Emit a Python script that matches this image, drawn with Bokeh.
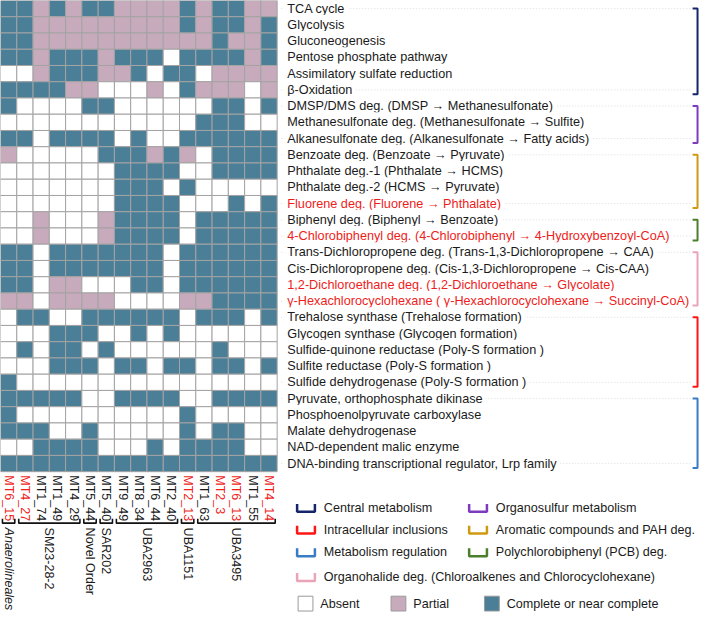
import math
from bokeh.plotting import figure
from bokeh.models import Range1d, ColumnDataSource
from bokeh.transform import factor_cmap
from bokeh.core.properties import value
from bokeh.embed import file_html
from bokeh.resources import INLINE

# ---------------- data ----------------
columns = ["MT6_15", "MT4_27", "MT1_74", "MT1_49", "MT4_29", "MT5_44", "MT5_40",
           "MT9_49", "MT8_34", "MT6_44", "MT2_40", "MT2_13", "MT1_63", "MT2_3",
           "MT6_13", "MT1_55", "MT4_14"]
red_columns = ["MT6_15", "MT4_27", "MT2_13", "MT2_3", "MT6_13", "MT4_14"]

taxa_groups = ["Anaerolineales", "SM23-28-2", "Novel Order", "SAR202", "UBA2963", "UBA1151", "UBA3495"]
taxa_first = [0, 1, 5, 6, 7, 11, 12]
taxa_last = [0, 4, 5, 6, 10, 11, 16]

pathways = [
    "TCA cycle",
    "Glycolysis",
    "Gluconeogenesis",
    "Pentose phosphate pathway",
    "Assimilatory sulfate reduction",
    "β-Oxidation",
    "DMSP/DMS deg. (DMSP → Methanesulfonate)",
    "Methanesulfonate deg. (Methanesulfonate → Sulfite)",
    "Alkanesulfonate deg. (Alkanesulfonate → Fatty acids)",
    "Benzoate deg. (Benzoate → Pyruvate)",
    "Phthalate deg.-1 (Phthalate → HCMS)",
    "Phthalate deg.-2 (HCMS → Pyruvate)",
    "Fluorene deg. (Fluorene → Phthalate)",
    "Biphenyl deg. (Biphenyl → Benzoate)",
    "4-Chlorobiphenyl deg. (4-Chlorobiphenyl → 4-Hydroxybenzoyl-CoA)",
    "Trans-Dichloropropene deg. (Trans-1,3-Dichloropropene → CAA)",
    "Cis-Dichloropropene deg. (Cis-1,3-Dichloropropene → Cis-CAA)",
    "1,2-Dichloroethane deg. (1,2-Dichloroethane → Glycolate)",
    "γ-Hexachlorocyclohexane ( γ-Hexachlorocyclohexane → Succinyl-CoA)",
    "Trehalose synthase (Trehalose formation)",
    "Glycogen synthase (Glycogen formation)",
    "Sulfide-quinone reductase (Poly-S formation )",
    "Sulfite reductase (Poly-S formation )",
    "Sulfide dehydrogenase (Poly-S formation )",
    "Pyruvate, orthophosphate dikinase",
    "Phosphoenolpyruvate carboxylase",
    "Malate dehydrogenase",
    "NAD-dependent malic enzyme",
    "DNA-binding transcriptional regulator, Lrp family",
]
red_pathways = [12, 14, 17, 18]

# A = Absent, P = Partial, C = Complete or near complete (one char per column)
status_rows = [
    "CCPCPCCPPPPCPCCPP",
    "CCPPPPPPPPPCPCCPC",
    "CCPPPPPPPPPPPCPPC",
    "CCPCCCPCCCACCCCPC",
    "AAPCCCPPCACCAPPPP",
    "CCCCPPAAAPACPPPAP",
    "CAAAACCAAAAAACCAC",
    "AAAAAAAAAAAACCCAA",
    "CCACCCCACAACCCCCC",
    "PAAAAACCCPCPACCCC",
    "AAAAAAACCCCAACCCC",
    "AAAAAAACCCACAAAAA",
    "AAAAAAACCCCAAACAC",
    "AAPAAAPCCCCACCCCC",
    "AAPAAAPCCCCACCCCC",
    "CCACCCCCCCACCCCCC",
    "CCACCCCCCCACCCCCC",
    "CCAPPAAACCACCCCCC",
    "PPAPPPPAAAAPPCCCC",
    "ACCAACCCCCCACCCAC",
    "AAACCCAACACAAAAAA",
    "ACACCACAAAAAACAAA",
    "AAACCCACCACCACCAC",
    "CAAAAAAAAAAAAAAAA",
    "CCCCCAACCCCAACCCC",
    "CAAAAAAAAAACAAAAA",
    "CCCAACAAAAACACCAA",
    "AACCCCAAACACCCCAA",
    "CCCCCCCCCCCCCCCCC",
]

func_groups = ["Central metabolism", "Organosulfur metabolism", "Aromatic compounds and PAH deg.",
               "Polychlorobiphenyl (PCB) deg.", "Organohalide deg. (Chloroalkenes and Chlorocyclohexane)",
               "Intracellular inclusions", "Metabolism regulation"]
func_first = [0, 6, 9, 13, 15, 19, 24]
func_last = [5, 8, 12, 14, 18, 23, 28]
func_colors = ["#14256a", "#7d3cbf", "#cf9a12", "#4b7f2b", "#eba3b8", "#ff1616", "#3a7bc6"]

status_codes = ["A", "P", "C"]
status_names = ["Absent", "Partial", "Complete or near complete"]
status_colors = ["#ffffff", "#c8aabd", "#4b7f98"]

# ---------------- layout helpers ----------------
U = 16.46          # reference pixels per cell
FONT = "Liberation Sans"
GRID = "#a3a3a3"


def u(px):
    return px / U


p = figure(width=700, height=612, x_range=Range1d(0, u(708)), y_range=Range1d(u(620), 0),
           output_backend="svg", toolbar_location=None, min_border=0)
p.axis.visible = False
p.grid.visible = False
p.outline_line_color = None
p.background_fill_color = "white"

# ---------------- heatmap cells ----------------
xs, ys, st = [], [], []
for r, row in enumerate(status_rows):
    for c, s in enumerate(row):
        xs.append(c + 0.5)
        ys.append(r + 0.5)
        st.append(s)
src = ColumnDataSource(dict(x=xs, y=ys, status=st))
p.rect(x="x", y="y", width=1, height=1, source=src,
       fill_color=factor_cmap("status", palette=status_colors, factors=status_codes),
       line_color=GRID, line_width=1)

# ---------------- leader lines ----------------
lx0, lx1 = u(284), u(698)
lead_xs, lead_ys = [], []
for f, l in zip(func_first, func_last):
    for r in (f, l):
        lead_xs.append([lx0, lx1])
        lead_ys.append([r + 0.5, r + 0.5])
p.multi_line(lead_xs, lead_ys, line_color="#dcdcdc", line_width=1, line_dash="1 2")

# ---------------- row labels ----------------
row_colors = ["#ee1c1c" if i in red_pathways else "#1a1a1a" for i in range(len(pathways))]
p.text(x=[u(287)] * len(pathways), y=[i + 0.5 for i in range(len(pathways))], text=pathways,
       text_color=row_colors, text_font=value(FONT), text_font_size="12.7px",
       text_align="left", text_baseline="middle",
       background_fill_color="white", padding=3)

# ---------------- right brackets ----------------
bx_in, bx_out = u(700), u(705)
br_xs, br_ys = [], []
for f, l in zip(func_first, func_last):
    y0 = f + 0.5
    y1 = l + 0.77
    br_xs.append([bx_in, bx_out, bx_out, bx_in])
    br_ys.append([y0, y0, y1, y1])
p.multi_line(br_xs, br_ys, line_color=func_colors, line_width=2)

# ---------------- column labels ----------------
col_colors = ["#ee1c1c" if c in red_columns else "#1a1a1a" for c in columns]
p.text(x=[i + 0.5 for i in range(len(columns))], y=[u(481)] * len(columns), text=columns,
       angle=-math.pi / 2, text_color=col_colors, text_font=value(FONT), text_font_size="12.5px",
       text_align="left", text_baseline="middle")

# ---------------- taxon brackets + labels ----------------
t_xs, t_ys = [], []
for f, l in zip(taxa_first, taxa_last):
    x0, x1 = f + 0.12, l + 0.88
    t_xs.append([x0, x0, x1, x1])
    t_ys.append([u(525), u(529.5), u(529.5), u(525)])
p.multi_line(t_xs, t_ys, line_color="#111111", line_width=1.6)

tx = [(f + l + 1) / 2 for f, l in zip(taxa_first, taxa_last)]
p.text(x=tx, y=[u(534)] * len(tx), text=taxa_groups, angle=-math.pi / 2,
       text_color="#1a1a1a", text_font=value(FONT), text_font_size="12.5px",
       text_font_style=["italic"] + ["normal"] * (len(tx) - 1),
       text_align="left", text_baseline="middle")

# ---------------- legend: functional groups ----------------
leg_order = [0, 5, 6, 4, 1, 2, 3]
leg_x = [u(300), u(300), u(300), u(300), u(474), u(474), u(474)]
leg_y = [u(514), u(536), u(559), u(584), u(514), u(536), u(559)]
icon_w = u(18)
icon_h = u(8)
i_xs, i_ys, i_cols = [], [], []
for k, g in enumerate(leg_order):
    x0 = leg_x[k]
    yc = leg_y[k]
    i_xs.append([x0, x0, x0 + icon_w, x0 + icon_w])
    i_ys.append([yc - icon_h / 2, yc + icon_h / 2, yc + icon_h / 2, yc - icon_h / 2])
    i_cols.append(func_colors[g])
p.multi_line(i_xs, i_ys, line_color=i_cols, line_width=2.5)
p.text(x=[x + icon_w + u(9) for x in leg_x], y=leg_y, text=[func_groups[g] for g in leg_order],
       text_color="#1a1a1a", text_font=value(FONT), text_font_size="12.6px",
       text_align="left", text_baseline="middle")

# ---------------- legend: status boxes ----------------
box_x = [u(308.5), u(402.5), u(497)]
box_y = [u(611)] * 3
p.rect(x=box_x, y=box_y, width=u(15), height=u(15), fill_color=status_colors,
       line_color="#9a9a9a", line_width=1)
p.text(x=[x + u(15) for x in box_x], y=box_y, text=status_names,
       text_color="#1a1a1a", text_font=value(FONT), text_font_size="12.6px",
       text_align="left", text_baseline="middle")

open("out.html", "w").write(file_html(p, INLINE))
